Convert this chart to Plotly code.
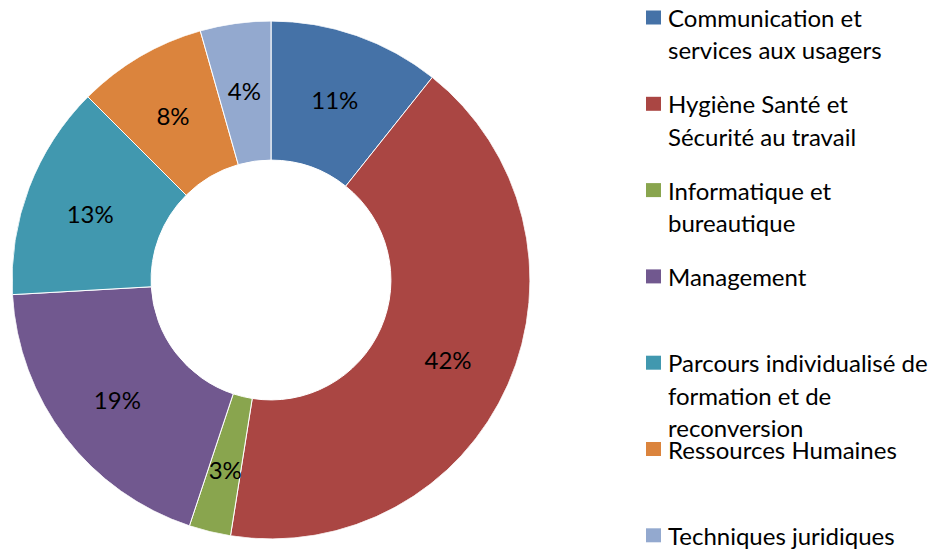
import plotly.graph_objects as go

categories = [
    "Communication et services aux usagers",
    "Hygiène Santé et Sécurité au travail",
    "Informatique et bureautique",
    "Management",
    "Parcours individualisé de formation et de reconversion",
    "Ressources Humaines",
    "Techniques juridiques",
]
legend_lines = [
    ["Communication et", "services aux usagers"],
    ["Hygiène Santé et", "Sécurité au travail"],
    ["Informatique et", "bureautique"],
    ["Management"],
    ["Parcours individualisé de", "formation et de", "reconversion"],
    ["Ressources Humaines"],
    ["Techniques juridiques"],
]
values = [10.7, 41.8, 2.6, 19.0, 13.4, 8.1, 4.4]
colors = ["#4572A7", "#AA4643", "#89A54E", "#71588F", "#4198AF", "#DB843D", "#93A9CF"]

W, H = 940, 549
FONT = "Lato"
FS = 24
HOLE = 0.463
LABEL_R = 0.747
TEXT_DY = 5.5  # px, vertical nudge of the label layer

# slice geometry derived from the values (angles in degrees)
total = sum(values)
widths = [v / total * 360 for v in values]
mids = []
acc = 0.0
for w in widths:
    mids.append(acc + w / 2)
    acc += w
pct_text = [f"{round(v / total * 100)}%" for v in values]

fig = go.Figure()
fig.add_trace(go.Barpolar(
    theta=mids,
    width=widths,
    r=[1 - HOLE] * len(values),
    base=[HOLE] * len(values),
    marker=dict(color=colors, line=dict(color="white", width=1)),
    customdata=categories,
    hovertemplate="%{customdata}<extra></extra>",
    showlegend=False,
    subplot="polar",
))
fig.add_trace(go.Scatterpolar(
    theta=mids,
    r=[LABEL_R] * len(values),
    mode="text",
    text=pct_text,
    textposition="middle center",
    textfont=dict(family=FONT, size=FS, color="#000000"),
    hoverinfo="skip",
    showlegend=False,
    subplot="polar2",
))

# manual legend (Excel-style spacing)
shapes = []
annotations = []
item_y0 = 17.5
item_step = 86.3
line_step = 32.5
for i, lines in enumerate(legend_lines):
    yc = item_y0 + i * item_step
    shapes.append(dict(type="rect", xref="paper", yref="paper",
                       x0=646 / W, x1=661 / W,
                       y0=1 - (yc + 7) / H, y1=1 - (yc - 7) / H,
                       fillcolor=colors[i], line=dict(width=0)))
    for j, ln in enumerate(lines):
        annotations.append(dict(xref="paper", yref="paper",
                                x=666 / W, y=1 - (yc + j * line_step) / H,
                                xanchor="left", yanchor="middle",
                                text=ln, showarrow=False,
                                font=dict(family=FONT, size=FS, color="#000000")))

polar_common = dict(
    bgcolor="rgba(0,0,0,0)",
    bargap=0,
    radialaxis=dict(visible=False, range=[0, 1]),
    angularaxis=dict(visible=False, rotation=90, direction="clockwise"),
)

fig.update_layout(
    width=W, height=H,
    margin=dict(l=0, r=0, t=0, b=0),
    paper_bgcolor="white",
    plot_bgcolor="white",
    polar=dict(domain=dict(x=[12 / W, 530 / W], y=[1 - 539 / H, 1 - 21 / H]),
               **polar_common),
    polar2=dict(domain=dict(x=[12 / W, 530 / W],
                            y=[1 - (539 + TEXT_DY) / H, 1 - (21 + TEXT_DY) / H]),
                **polar_common),
    shapes=shapes,
    annotations=annotations,
)

fig.write_html("out.html", config={"displayModeBar": False},
               post_script="document.body.style.margin='0';")
